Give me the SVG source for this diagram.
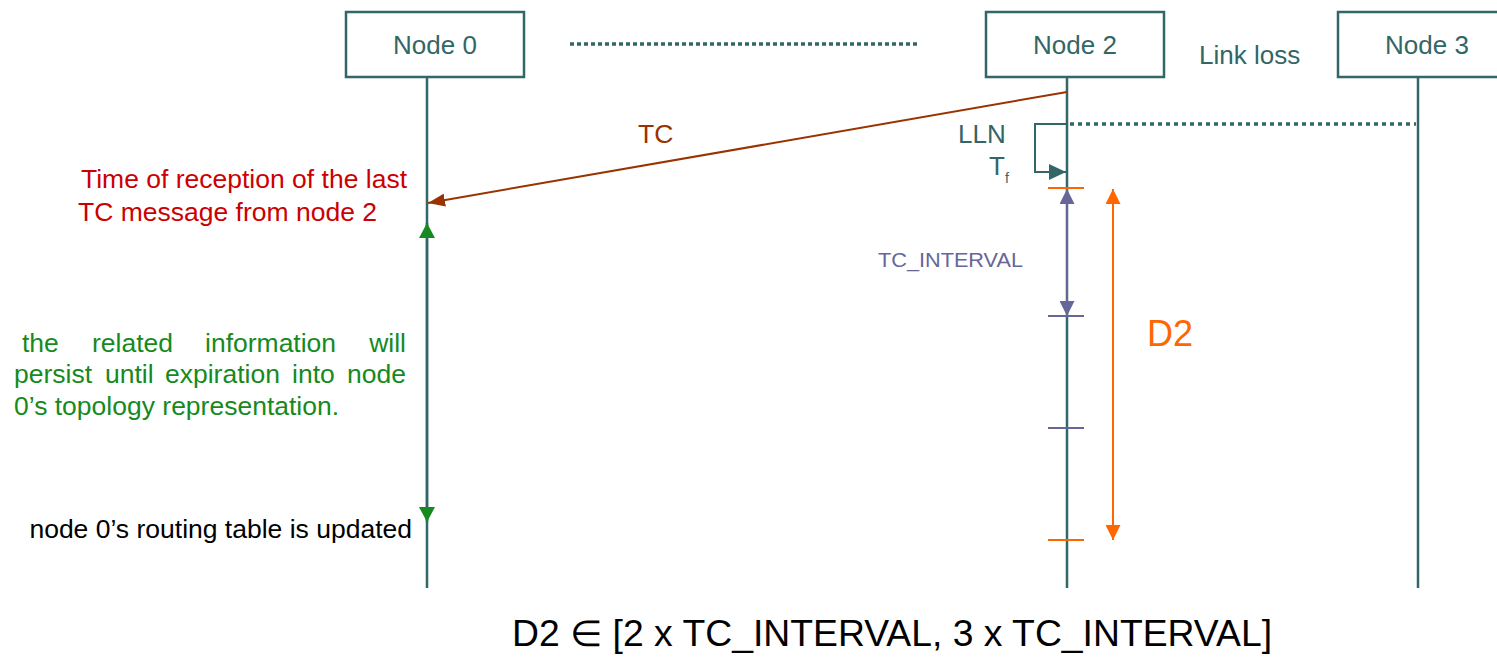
<svg xmlns="http://www.w3.org/2000/svg" width="1497" height="657" viewBox="0 0 1497 657">
<style>
  .box { fill: #ffffff; stroke: #336666; stroke-width: 2.5; }
  .life { stroke: #336666; stroke-width: 2.5; fill: none; }
  .lbl { font-family: "Liberation Sans", Arial, sans-serif; font-size: 26px; fill: #336666; }
  .txt { font-family: "Liberation Sans", Arial, sans-serif; font-size: 26.5px; }
  .dots { stroke: #336666; stroke-width: 3.5; stroke-dasharray: 4 3; fill: none; }
</style>
<defs>
  <marker id="ahBrown" markerUnits="userSpaceOnUse" markerWidth="17" markerHeight="13" refX="17" refY="6.5" orient="auto">
    <path d="M0,0 L17,6.5 L0,13 z" fill="#993300"/>
  </marker>
  <marker id="ahTeal" markerUnits="userSpaceOnUse" markerWidth="17" markerHeight="16" refX="17" refY="8" orient="auto">
    <path d="M0,0 L17,8 L0,16 z" fill="#336666"/>
  </marker>
  <marker id="ahPurple" markerUnits="userSpaceOnUse" markerWidth="15" markerHeight="15" refX="15" refY="7.5" orient="auto-start-reverse">
    <path d="M0,0 L15,7.5 L0,15 z" fill="#666699"/>
  </marker>
  <marker id="ahOrange" markerUnits="userSpaceOnUse" markerWidth="15" markerHeight="15" refX="15" refY="7.5" orient="auto-start-reverse">
    <path d="M0,0 L15,7.5 L0,15 z" fill="#FF6600"/>
  </marker>
  <marker id="ahGreen" markerUnits="userSpaceOnUse" markerWidth="15" markerHeight="16" refX="15" refY="8" orient="auto-start-reverse">
    <path d="M0,0 L15,8 L0,16 z" fill="#168A1E"/>
  </marker>
</defs>

<g id="node0">
  <rect class="box" x="346" y="12" width="178" height="65"/>
  <text class="lbl" x="435" y="54" text-anchor="middle">Node 0</text>
  <line class="life" x1="427" y1="77" x2="427" y2="588"/>
</g>
<g id="node2">
  <rect class="box" x="986" y="12" width="178" height="65"/>
  <text class="lbl" x="1075" y="54" text-anchor="middle">Node 2</text>
  <line class="life" x1="1067" y1="77" x2="1067" y2="588"/>
</g>
<g id="node3">
  <rect class="box" x="1338" y="12" width="178" height="65"/>
  <text class="lbl" x="1427" y="54" text-anchor="middle">Node 3</text>
  <line class="life" x1="1418" y1="77" x2="1418" y2="588"/>
</g>

<g id="connectors">
  <line class="dots" x1="570" y1="44" x2="918" y2="44"/>
  <line class="dots" x1="1070" y1="124" x2="1416" y2="124" style="stroke-dasharray:4 4"/>
  <line x1="1067" y1="92" x2="428" y2="203" stroke="#993300" stroke-width="2" marker-end="url(#ahBrown)"/>
  <polyline points="1067,124 1035,124 1035,172 1066,172" fill="none" stroke="#336666" stroke-width="2" marker-end="url(#ahTeal)"/>
  <line x1="427" y1="223" x2="427" y2="522" stroke="#336666" stroke-width="2.5" marker-start="url(#ahGreen)" marker-end="url(#ahGreen)"/>
  <line x1="1067" y1="189" x2="1067" y2="316" stroke="#666699" stroke-width="2" marker-start="url(#ahPurple)" marker-end="url(#ahPurple)"/>
  <line x1="1113" y1="189" x2="1113" y2="540" stroke="#FF6600" stroke-width="2" marker-start="url(#ahOrange)" marker-end="url(#ahOrange)"/>
  <line x1="1048" y1="188" x2="1084" y2="188" stroke="#FF6600" stroke-width="2"/>
  <line x1="1048" y1="540" x2="1084" y2="540" stroke="#FF6600" stroke-width="2"/>
  <line x1="1048" y1="316" x2="1084" y2="316" stroke="#666699" stroke-width="2"/>
  <line x1="1048" y1="428" x2="1084" y2="428" stroke="#666699" stroke-width="2"/>
</g>

<g id="labels">
  <text class="lbl" x="1199" y="64">Link loss</text>
  <text class="txt" x="638" y="143" fill="#993300">TC</text>
  <text class="lbl" x="958" y="143">LLN</text>
  <text class="lbl" x="989" y="175">T<tspan font-size="14" dy="8">f</tspan></text>
  <text class="txt" x="407" y="188" text-anchor="end" fill="#CC0000">Time of reception of the last</text>
  <text class="txt" x="78" y="221" fill="#CC0000">TC message from node 2</text>
  <text class="txt" x="878" y="267" fill="#666699" style="font-size:20px" textLength="145" lengthAdjust="spacingAndGlyphs">TC_INTERVAL</text>
  <text class="txt" x="1147" y="346" fill="#FF6600" style="font-size:36px">D2</text>
  <g class="txt" fill="#168A1E">
    <text x="22" y="352">the</text>
    <text x="92" y="352">related</text>
    <text x="205" y="352">information</text>
    <text x="406" y="352" text-anchor="end">will</text>
    <text x="14" y="383">persist</text>
    <text x="105" y="383">until</text>
    <text x="165" y="383">expiration</text>
    <text x="292" y="383">into</text>
    <text x="406" y="383" text-anchor="end">node</text>
    <text x="14" y="415">0’s topology representation.</text>
  </g>
  <text class="txt" x="412" y="538" text-anchor="end" fill="#000000">node 0’s routing table is updated</text>
  <text class="txt" x="512" y="646" fill="#000000" style="font-size:36px" textLength="760" lengthAdjust="spacingAndGlyphs">D2 ∈ [2 x TC_INTERVAL, 3 x TC_INTERVAL]</text>
</g>
</svg>
